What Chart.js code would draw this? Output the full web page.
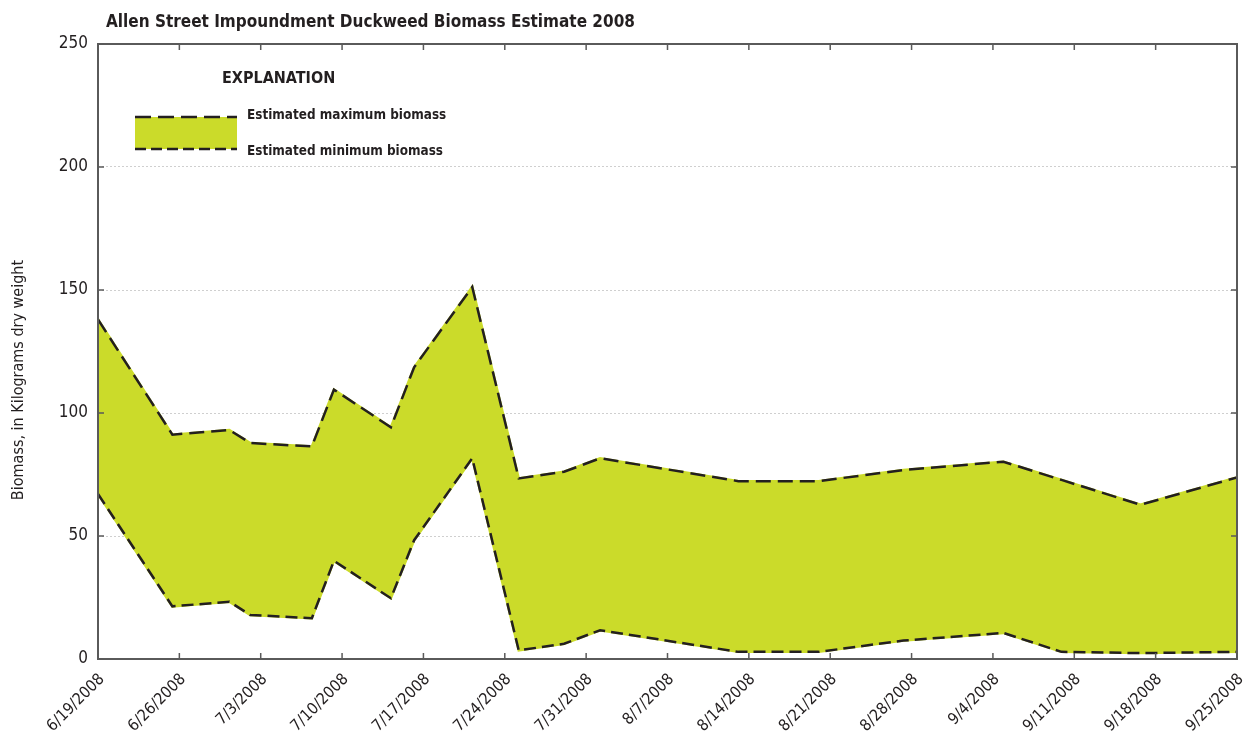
<!DOCTYPE html>
<html>
<head>
<meta charset="utf-8">
<script src="https://cdn.jsdelivr.net/npm/chart.js@4.4.1/dist/chart.umd.min.js"></script>
<style>
  html, body { margin: 0; padding: 0; background: #fff; }
  #wrap { width: 1252px; height: 734px; }
</style>
</head>
<body>
<div id="wrap"><canvas id="myChart" width="1252" height="734"></canvas></div>
<script>
// days after 6/19/2008 at which the estimates were made
var days = [0, 6.4, 11.3, 13.1, 18.4, 20.3, 25.2, 27.2, 32.2, 36.2, 40.1, 43.2, 55.1, 62.0, 69.3, 77.9, 82.9, 89.7, 98];
var maxBiomass = [138, 91.2, 93.1, 87.8, 86.4, 109.5, 94.2, 118.6, 151.2, 73.4, 76.1, 81.6, 72.3, 72.3, 76.8, 80.2, 72.8, 62.7, 73.8];
var minBiomass = [67.1, 21.4, 23.3, 17.9, 16.6, 39.9, 24.7, 48.3, 81.6, 3.5, 6.2, 11.7, 2.9, 2.9, 7.5, 10.6, 2.9, 2.4, 2.9];
var yTicks = [0, 50, 100, 150, 200, 250];
var startDate = [2008, 5, 19];

var FONT = "'Liberation Sans Narrow', 'DejaVu Sans Condensed', 'Roboto', sans-serif";
var TEXT = '#231f20';
var FILL = '#cbdb2a';

function pts(arr) {
  return days.map(function (d, i) { return { x: d, y: arr[i] }; });
}

function dateLabel(v) {
  var d = new Date(startDate[0], startDate[1], startDate[2] + v);
  return (d.getMonth() + 1) + '/' + d.getDate() + '/' + d.getFullYear();
}

var framePlugin = {
  id: 'frame',
  afterDraw: function (chart) {
    var c = chart.ctx, a = chart.chartArea;
    var xs = chart.scales.x, ys = chart.scales.y;
    c.save();
    c.strokeStyle = '#5a5a5a';
    c.lineWidth = 2;
    c.strokeRect(a.left, a.top, a.right - a.left, a.bottom - a.top);
    c.lineWidth = 1.5;
    c.beginPath();
    xs.ticks.forEach(function (t) {
      var px = xs.getPixelForValue(t.value);
      c.moveTo(px, a.bottom); c.lineTo(px, a.bottom - 6);
      c.moveTo(px, a.top); c.lineTo(px, a.top + 6);
    });
    ys.ticks.forEach(function (t) {
      var py = ys.getPixelForValue(t.value);
      c.moveTo(a.left, py); c.lineTo(a.left + 6, py);
      c.moveTo(a.right, py); c.lineTo(a.right - 6, py);
    });
    c.stroke();

    // title
    c.fillStyle = TEXT;
    c.font = 'bold 17px ' + FONT;
    c.textAlign = 'left';
    c.textBaseline = 'alphabetic';
    c.fillText('Allen Street Impoundment Duckweed Biomass Estimate 2008', 106, 27);

    // y axis title
    c.save();
    c.translate(19, 380);
    c.rotate(-Math.PI / 2);
    c.textAlign = 'center';
    c.textBaseline = 'middle';
    c.font = '16px ' + FONT;
    c.fillText('Biomass, in Kilograms dry weight', 0, 0);
    c.restore();

    // explanation box
    c.font = 'bold 16px ' + FONT;
    c.textBaseline = 'middle';
    c.fillText('EXPLANATION', 222, 79);
    c.fillStyle = FILL;
    c.fillRect(135, 117, 102, 32);
    c.strokeStyle = '#231f20';
    c.lineWidth = 2.5;
    c.setLineDash([16, 7]);
    c.beginPath(); c.moveTo(135, 117); c.lineTo(237, 117); c.stroke();
    c.setLineDash([11, 5]);
    c.beginPath(); c.moveTo(135, 149); c.lineTo(237, 149); c.stroke();
    c.setLineDash([]);
    c.fillStyle = TEXT;
    c.font = 'bold 13.4px ' + FONT;
    c.fillText('Estimated maximum biomass', 247, 116);
    c.fillText('Estimated minimum biomass', 247, 152);
    c.restore();
  }
};

var ctx = document.getElementById('myChart').getContext('2d');
var myChart = new Chart(ctx, {
  type: 'line',
  data: {
    datasets: [
      { label: 'max line', data: pts(maxBiomass), borderColor: '#231f20', borderWidth: 2.5, borderDash: [15, 7], fill: false, pointRadius: 0, tension: 0 },
      { label: 'min line', data: pts(minBiomass), borderColor: '#231f20', borderWidth: 2.5, borderDash: [12, 6], fill: false, pointRadius: 0, tension: 0 },
      { label: 'Estimated maximum biomass', data: pts(maxBiomass), borderColor: FILL, backgroundColor: FILL, borderWidth: 2.5, fill: '+1', pointRadius: 0, tension: 0 },
      { label: 'Estimated minimum biomass', data: pts(minBiomass), borderColor: FILL, borderWidth: 2.5, fill: false, pointRadius: 0, tension: 0 }
    ]
  },
  options: {
    responsive: false,
    animation: false,
    layout: { padding: { top: 44, right: 15, left: 0, bottom: 0 } },
    plugins: {
      legend: { display: false },
      tooltip: { enabled: false },
      title: { display: false }
    },
    scales: {
      x: {
        type: 'linear',
        min: 0,
        max: 98,
        afterBuildTicks: function (scale) {
          var t = [];
          for (var d = 0; d <= 98; d += 7) t.push({ value: d });
          scale.ticks = t;
        },
        afterFit: function (scale) {
          scale.height = 75;
          scale.paddingLeft = 0;
          scale.paddingRight = 0;
        },
        grid: { display: false, drawTicks: false },
        border: { display: false },
        ticks: {
          autoSkip: false,
          maxRotation: 45,
          minRotation: 45,
          padding: 11,
          labelOffset: 4,
          color: TEXT,
          font: { family: FONT, size: 16 },
          callback: function (v) { return dateLabel(v); }
        }
      },
      y: {
        min: 0,
        max: 250,
        afterBuildTicks: function (scale) {
          scale.ticks = yTicks.map(function (v) { return { value: v }; });
        },
        afterFit: function (scale) { scale.width = 98; },
        grid: { color: '#cfcfcf', lineWidth: 1, drawTicks: false },
        border: { display: false, dash: [2, 2] },
        ticks: {
          padding: 10,
          color: TEXT,
          font: { family: FONT, size: 17 }
        }
      }
    }
  },
  plugins: [framePlugin]
});
</script>
</body>
</html>
